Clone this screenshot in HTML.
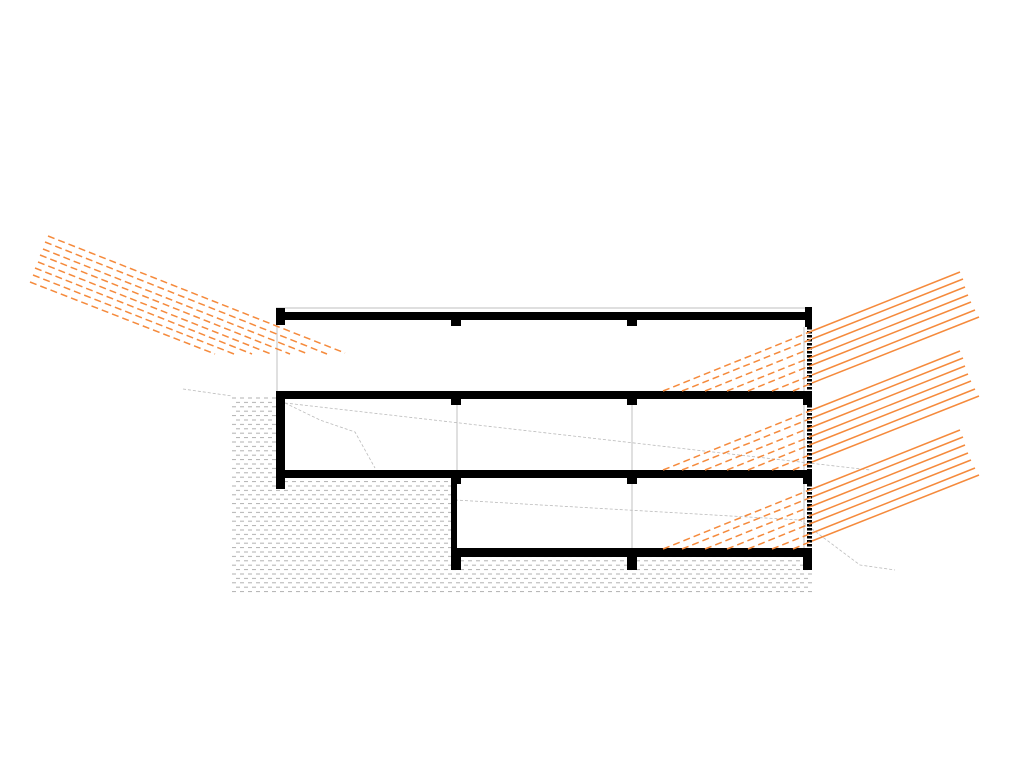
<!DOCTYPE html>
<html><head><style>html,body{margin:0;padding:0;background:#fff}svg{display:block}</style></head>
<body>
<svg width="1024" height="768" viewBox="0 0 1024 768" xmlns="http://www.w3.org/2000/svg">
<defs>
<pattern id="h" width="8" height="8.8" patternUnits="userSpaceOnUse">
<line x1="0" y1="2" x2="4" y2="2" stroke="#b0b0b0" stroke-width="1"/>
<line x1="4" y1="6.4" x2="8" y2="6.4" stroke="#b0b0b0" stroke-width="1"/>
</pattern>
</defs>
<path d="M232 395 H276 V489 H285 V478 H451 V570 H461 V557 H627 V570 H637 V557 H803 V570 H812 V593 H232 Z" fill="url(#h)"/>
<g stroke="#ccc" stroke-width="1.2" fill="none">
<line x1="277" y1="320" x2="277" y2="391"/>
<line x1="457" y1="399" x2="457" y2="470"/>
<line x1="632" y1="399" x2="632" y2="470"/>
<line x1="632" y1="478" x2="632" y2="548"/>
<line x1="804" y1="327" x2="804" y2="391"/>
<line x1="804" y1="405" x2="804" y2="470"/>
<line x1="804" y1="484" x2="804" y2="548"/>
<line x1="276" y1="308" x2="812" y2="308"/>
</g>
<g stroke="#bbb" stroke-width="0.8" fill="none" stroke-dasharray="3 2">
<polyline points="183,389 232,396"/>
<polyline points="285,403 870,470"/>
<polyline points="285,403 320,420 355,432 375,468"/>
<polyline points="455,500 800,520 860,565 895,570"/>
</g>
<g fill="#000">
<rect x="276" y="312" width="536" height="8"/>
<rect x="276" y="308" width="9" height="17"/>
<rect x="805" y="307" width="7" height="20"/>
<rect x="451" y="320" width="10" height="6"/>
<rect x="627" y="320" width="10" height="6"/>
<rect x="276" y="391" width="536" height="8"/>
<rect x="451" y="399" width="10" height="6"/>
<rect x="627" y="399" width="10" height="6"/>
<rect x="803" y="399" width="9" height="6"/>
<rect x="276" y="399" width="9" height="90"/>
<rect x="276" y="470" width="536" height="8"/>
<rect x="451" y="478" width="6" height="79"/>
<rect x="451" y="478" width="10" height="6"/>
<rect x="627" y="478" width="10" height="6"/>
<rect x="803" y="478" width="9" height="6"/>
<rect x="451" y="548" width="361" height="9"/>
<rect x="451" y="557" width="10" height="13"/>
<rect x="627" y="557" width="10" height="13"/>
<rect x="803" y="557" width="9" height="13"/>
</g>
<g stroke="#000" stroke-width="5" stroke-dasharray="2.5 1.5">
<line x1="809.5" y1="327" x2="809.5" y2="391"/>
<line x1="809.5" y1="405" x2="809.5" y2="470"/>
<line x1="809.5" y1="484" x2="809.5" y2="548"/>
</g>
<g stroke="#f58a3c" stroke-width="1.5" stroke-dasharray="7 4" fill="none">
<line x1="30" y1="282" x2="215" y2="354"/>
<line x1="33" y1="275" x2="234" y2="354"/>
<line x1="35" y1="268" x2="252" y2="354"/>
<line x1="38" y1="262" x2="271" y2="354"/>
<line x1="40" y1="255" x2="290" y2="354"/>
<line x1="43" y1="249" x2="308" y2="354"/>
<line x1="45" y1="242" x2="327" y2="354"/>
<line x1="48" y1="236" x2="345" y2="353"/>
</g>
<g id="g1">
<g stroke="#f58a3c" stroke-width="1.5" fill="none" stroke-dasharray="7 4">
<line x1="663" y1="391" x2="812" y2="331"/>
<line x1="682" y1="391" x2="812" y2="339"/>
<line x1="705" y1="391" x2="812" y2="348"/>
<line x1="727" y1="391" x2="812" y2="357"/>
<line x1="748" y1="391" x2="812" y2="365"/>
<line x1="772" y1="391" x2="812" y2="375"/>
<line x1="793" y1="391" x2="812" y2="383"/>
</g>
<g stroke="#f58a3c" stroke-width="1.5" fill="none">
<line x1="812" y1="331" x2="960" y2="272"/>
<line x1="812" y1="339" x2="963" y2="279"/>
<line x1="812" y1="348" x2="965" y2="287"/>
<line x1="812" y1="357" x2="968" y2="295"/>
<line x1="812" y1="365" x2="971" y2="302"/>
<line x1="812" y1="375" x2="975" y2="310"/>
<line x1="812" y1="383" x2="979" y2="317"/>
</g>
</g>
<use href="#g1" transform="translate(0,79)"/>
<use href="#g1" transform="translate(0,158)"/>
</svg>
</body></html>
